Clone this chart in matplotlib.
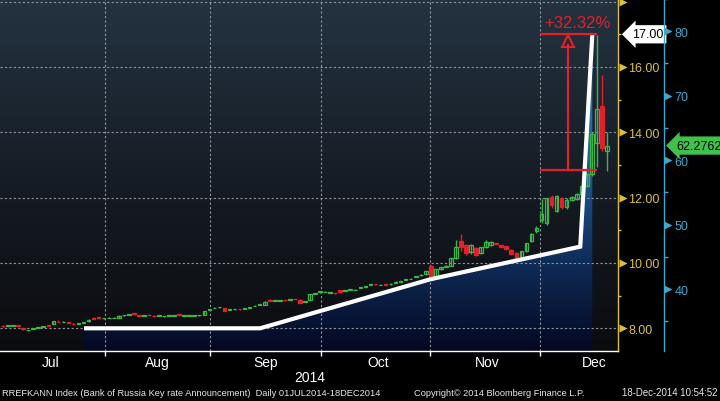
import matplotlib
matplotlib.use("Agg")
import matplotlib.pyplot as plt
import matplotlib.transforms as mtransforms
from matplotlib.colors import LinearSegmentedColormap
from matplotlib.patches import Polygon
import numpy as np

# ---------------- data ----------------
# USD/RUB daily candles (right, blue axis)
OPEN = [34.35, 34.30, 34.33, 34.40, 34.00, 33.60, 33.85, 34.05, 34.17, 34.42,
        34.60, 34.98, 34.88, 34.86, 34.66, 34.64, 34.82, 35.00, 35.50, 35.62,
        35.46, 35.50, 35.52, 35.55, 35.93, 36.03, 36.24, 35.96, 35.87, 36.05,
        35.83, 35.84, 35.78, 35.87, 35.92, 36.15, 35.88, 35.88, 35.89, 35.96,
        35.97, 36.80, 37.08, 37.17, 37.10, 36.83, 36.87, 36.95, 36.97, 37.12,
        37.37, 37.52, 37.62, 38.30, 38.23, 38.23, 38.33, 38.36, 38.53, 38.40,
        38.08, 38.40, 39.26, 39.52, 39.58, 39.46, 39.44, 39.85, 39.76, 39.92,
        39.87, 40.22, 40.35, 40.62, 40.84, 40.68, 40.74, 40.78, 41.02, 41.12,
        41.48, 41.56, 41.92, 42.16, 42.30, 43.60, 41.70, 43.10, 43.50, 43.60,
        44.80, 47.40, 46.80, 45.70, 46.40, 45.60, 46.50, 46.80, 47.15, 46.80,
        46.70, 46.10, 45.60, 44.70, 45.90, 47.40, 49.00, 50.70, 50.20, 54.30,
        52.10, 54.10, 52.70, 53.80, 54.00, 54.70, 56.00, 57.90, 62.70, 68.40,
        61.50]
CLOSE = [34.22, 34.40, 34.42, 34.26, 33.80, 33.68, 33.93, 34.12, 34.24, 34.34,
         35.00, 34.88, 34.95, 34.76, 34.56, 34.72, 34.90, 35.30, 35.42, 35.52,
         35.54, 35.58, 35.58, 35.90, 35.98, 36.10, 36.18, 35.88, 35.93, 35.97,
         35.79, 35.96, 35.84, 35.93, 35.98, 36.05, 35.94, 35.94, 35.93, 36.00,
         36.60, 36.88, 37.12, 37.23, 36.62, 36.87, 36.93, 36.88, 37.03, 37.25,
         37.43, 37.65, 38.08, 38.22, 38.27, 38.27, 38.27, 38.45, 38.47, 37.92,
         38.12, 39.20, 39.34, 39.65, 39.62, 39.54, 39.36, 39.52, 39.84, 39.98,
         39.93, 40.35, 40.48, 40.75, 40.76, 40.72, 40.66, 40.82, 41.15, 41.26,
         41.52, 41.64, 42.05, 42.24, 42.80, 41.40, 43.10, 43.40, 43.62, 44.80,
         46.50, 46.50, 45.60, 46.80, 45.30, 46.50, 47.30, 47.30, 47.00, 46.55,
         46.20, 45.50, 44.70, 45.90, 47.10, 48.50, 49.50, 51.60, 54.10, 53.00,
         54.40, 52.70, 53.80, 54.30, 54.70, 56.00, 57.80, 64.10, 68.00, 61.90,
         62.28]
HIGH = [34.40, 34.50, 34.50, 34.45, 34.05, 33.75, 34.00, 34.20, 34.30, 34.45,
        35.05, 35.20, 35.05, 34.90, 34.70, 34.78, 34.95, 35.35, 35.65, 35.66,
        35.60, 35.62, 35.62, 35.95, 36.05, 36.15, 36.38, 36.00, 35.98, 36.08,
        35.95, 36.00, 35.88, 35.97, 36.02, 36.18, 35.98, 35.98, 35.98, 36.06,
        36.65, 36.95, 37.25, 37.30, 37.15, 36.95, 36.98, 36.99, 37.08, 37.30,
        37.48, 37.70, 38.12, 38.50, 38.35, 38.35, 38.38, 38.50, 38.56, 38.45,
        38.20, 39.25, 39.40, 39.70, 39.70, 39.60, 39.48, 39.90, 39.88, 40.02,
        39.98, 40.40, 40.52, 40.80, 40.88, 40.80, 40.78, 40.90, 41.20, 41.30,
        41.60, 41.70, 42.10, 42.30, 42.85, 43.80, 43.20, 43.50, 43.70, 44.90,
        47.60, 48.50, 47.00, 47.00, 46.50, 46.60, 47.60, 47.40, 47.20, 46.85,
        46.75, 46.20, 45.70, 46.00, 47.20, 48.70, 49.80, 54.00, 54.20, 54.60,
        54.60, 54.30, 54.10, 54.50, 54.90, 56.20, 58.00, 64.40, 79.40, 73.20,
        64.40]
LOW = [34.18, 34.28, 34.30, 34.20, 33.75, 33.55, 33.80, 34.00, 34.12, 34.30,
       34.55, 34.85, 34.85, 34.72, 34.50, 34.60, 34.78, 34.95, 35.38, 35.48,
       35.42, 35.46, 35.48, 35.50, 35.90, 36.00, 36.15, 35.85, 35.83, 35.93,
       35.76, 35.80, 35.75, 35.84, 35.88, 36.02, 35.85, 35.85, 35.86, 35.92,
       35.95, 36.75, 37.02, 37.12, 36.58, 36.78, 36.83, 36.85, 36.93, 37.08,
       37.33, 37.48, 37.58, 38.18, 38.18, 38.18, 38.24, 38.32, 38.44, 37.88,
       38.02, 38.35, 39.22, 39.48, 39.52, 39.42, 39.32, 39.48, 39.72, 39.88,
       39.84, 40.18, 40.30, 40.58, 40.72, 40.62, 40.62, 40.72, 40.98, 41.08,
       41.42, 41.52, 41.88, 42.12, 42.25, 41.20, 41.60, 43.00, 43.45, 43.55,
       44.70, 45.90, 45.30, 45.50, 45.20, 45.50, 46.40, 46.70, 46.95, 46.50,
       46.10, 45.40, 44.60, 44.60, 45.80, 47.30, 48.70, 50.20, 50.00, 52.60,
       51.90, 52.50, 52.50, 53.70, 53.90, 54.50, 55.80, 57.60, 59.00, 61.40,
       58.30]
LAST_PRICE = 62.2762

# Bank of Russia key rate announcements (left, yellow axis), candle-index positions
KEY_POS = [16.1, 51.1, 84.9, 114.7, 117.1]
KEY_RATE = [8.0, 8.0, 9.5, 10.5, 17.0]

# months
MONTHS = ["Jul", "Aug", "Sep", "Oct", "Nov", "Dec"]
MONTH_LABEL_POS = [9.4, 30.7, 52.2, 74.5, 96.2, 117.4]
MONTH_EDGES = [20.3, 41.1, 63.2, 84.8, 106.7]

YELLOW_TICKS = [8, 10, 12, 14, 16, 18]
YELLOW_MINOR = [9, 11, 13, 15, 17]
BLUE_TICKS = [40, 50, 60, 70, 80]
BLUE_MINOR = [35, 45, 55, 65, 75, 85]

# change annotation (yellow-axis units)
ANNOT_FROM = 12.85
ANNOT_TO = 17.0
ANNOT_X = [106.9, 117.8]
ANNOT_XV = 112.3
ANNOT_TEXT = "+32.32%"

# ---------------- style ----------------
YELLOW = "#dcc03c"
BLUE = "#3aa8cf"
GREEN = "#3db54a"
RED = "#e3202a"
plt.rcParams["font.family"] = ["Liberation Sans", "DejaVu Sans"]

fig = plt.figure(figsize=(7.2, 4.02), dpi=100, facecolor="black")
ax = fig.add_axes([0, 1 - 352 / 402, 618 / 720, 352 / 402])
ax2 = ax.twinx()

XLIM = (-0.6, 122.2)
YLIM = (7.305, 18.08)
BLIM = (30.42, 84.79)

# background gradient
bg_cmap = LinearSegmentedColormap.from_list(
    "bg", [(0, "#0b0c0f"), (0.45, "#151b23"), (1, "#243341")])
grad = np.linspace(0, 1, 256).reshape(-1, 1)
ax.imshow(grad, extent=[XLIM[0], XLIM[1], YLIM[0], YLIM[1]], origin="lower",
          aspect="auto", cmap=bg_cmap, zorder=0)

# area under key rate with vertical gradient
fill_cmap = LinearSegmentedColormap.from_list(
    "fill", [(0, "#040822"), (0.25, "#0f2c58"), (0.44, "#1a4c80"),
             (0.62, "#28679d"), (1, "#4a90c8")])
im = ax.imshow(grad, extent=[XLIM[0], XLIM[1], YLIM[0], YLIM[1]], origin="lower",
               aspect="auto", cmap=fill_cmap, zorder=0.5)
verts = list(zip(KEY_POS, KEY_RATE)) + [(KEY_POS[-1], YLIM[0]), (KEY_POS[0], YLIM[0])]
poly = Polygon(verts, closed=True, facecolor="none", edgecolor="none",
               transform=ax.transData)
ax.add_patch(poly)
im.set_clip_path(poly)

ax.set_xlim(*XLIM)
ax.set_ylim(*YLIM)
ax2.set_ylim(*BLIM)

# grid
ax.set_axisbelow(False)
ax.set_xticks(MONTH_EDGES)
ax.set_xticklabels([""] * len(MONTH_EDGES))
ax.set_xticks(MONTH_LABEL_POS, minor=True)
ax.set_xticklabels(MONTHS, minor=True)
ax.set_yticks(YELLOW_TICKS)
ax.set_yticklabels([f"{v:.2f}" for v in YELLOW_TICKS[:-1]] + [""])
ax.set_yticks(YELLOW_MINOR, minor=True)
ax.grid(True, which="major", axis="both", color="#8d949c",
        linestyle=(0, (2, 2)), linewidth=0.8)

ax.tick_params(axis="x", which="major", direction="out", length=3.5, width=1,
               color="white")
ax.tick_params(axis="x", which="minor", length=0, pad=3, labelsize=10,
               labelcolor="white")
ax.yaxis.tick_right()
ax.tick_params(axis="y", which="major", length=0, pad=7.5, labelsize=9,
               labelcolor=YELLOW, left=False, labelleft=False,
               right=True, labelright=True)
ax.tick_params(axis="y", which="minor", direction="out", length=2.5, width=1,
               color=YELLOW, left=False, right=True)

for s in ["top", "left"]:
    ax.spines[s].set_visible(False)
ax.spines["bottom"].set_color("white")
ax.spines["bottom"].set_linewidth(1)
ax.spines["right"].set_color(YELLOW)
ax.spines["right"].set_linewidth(1)

BLUE_X = 663.5 / 618
ax2.spines["right"].set_position(("axes", BLUE_X))
for s in ["top", "left", "bottom"]:
    ax2.spines[s].set_visible(False)
ax2.spines["right"].set_color(BLUE)
ax2.spines["right"].set_linewidth(1)
ax2.set_yticks(BLUE_TICKS)
ax2.set_yticklabels([str(v) for v in BLUE_TICKS])
ax2.set_yticks(BLUE_MINOR, minor=True)
ax2.tick_params(axis="y", which="major", length=0, pad=7.8, labelsize=9,
                labelcolor=BLUE)
ax2.tick_params(axis="y", which="minor", direction="out", length=3, width=1,
                color=BLUE)

# triangle tick markers
off = mtransforms.ScaledTranslation(4.5 / 100, 0, fig.dpi_scale_trans)
ty = mtransforms.blended_transform_factory(ax.transAxes, ax.transData) + off
ax.plot([1.0] * len(YELLOW_TICKS), YELLOW_TICKS, linestyle="none", marker=">",
        ms=5.5, color=YELLOW, mec="none", transform=ty, clip_on=False, zorder=6)
tb = mtransforms.blended_transform_factory(ax2.transAxes, ax2.transData) + off
ax2.plot([BLUE_X] * len(BLUE_TICKS), BLUE_TICKS, linestyle="none", marker=">",
         ms=5.5, color=BLUE, mec="none", transform=tb, clip_on=False, zorder=6)

# candles
idx = np.arange(len(CLOSE))
o = np.array(OPEN)
c = np.array(CLOSE)
up = c >= o
cols = np.where(up, GREEN, RED)
ax2.vlines(idx, LOW, HIGH, colors=cols, lw=1, zorder=3)
ax2.bar(idx, c - o, bottom=o, width=0.72,
        color=[("none" if u else RED) for u in up],
        edgecolor=cols, linewidth=0.9, zorder=4)

# key rate line
ax2.plot(KEY_POS, KEY_RATE, color="white", lw=3, transform=ax.transData,
         solid_joinstyle="miter", solid_capstyle="butt", zorder=5)

# red change annotation
ax2.plot(ANNOT_X, [ANNOT_TO, ANNOT_TO], color=RED, lw=1.6,
         transform=ax.transData, zorder=6)
ax2.plot(ANNOT_X, [ANNOT_FROM, ANNOT_FROM], color=RED, lw=1.6,
         transform=ax.transData, zorder=6)
ax2.plot([ANNOT_XV, ANNOT_XV], [ANNOT_FROM, ANNOT_TO - 0.33], color=RED, lw=1.6,
         transform=ax.transData, zorder=6)
ax2.plot([ANNOT_XV], [ANNOT_TO - 0.2], marker="^", ms=8, mfc="none", mec=RED,
         mew=1.5, linestyle="none", transform=ax.transData, zorder=6)
ax2.text(ANNOT_XV + 1.75, ANNOT_TO + 0.37, ANNOT_TEXT, color=RED, fontsize=12,
         ha="center", va="center", transform=ax.transData, zorder=7)

# last value boxes
ax.annotate(f"{KEY_RATE[-1]:.2f}", xy=(1.0, KEY_RATE[-1]),
            xycoords=mtransforms.blended_transform_factory(ax.transAxes, ax.transData),
            xytext=(10, 0), textcoords="offset points", ha="left", va="center",
            fontsize=9, color="black", annotation_clip=False, zorder=8,
            bbox=dict(boxstyle="larrow,pad=0.25", fc="white", ec="none"))
ax2.annotate(f"{LAST_PRICE:.4f}", xy=(BLUE_X, LAST_PRICE),
             xycoords=mtransforms.blended_transform_factory(ax2.transAxes, ax2.transData),
             xytext=(9, 0), textcoords="offset points", ha="left", va="center",
             fontsize=9, color="black", annotation_clip=False, zorder=8,
             bbox=dict(boxstyle="larrow,pad=0.25", fc="#3ec24a", ec="none"))

# texts
fig.text(310 / 720, 1 - 378 / 402, "2014", ha="center", va="center",
         color="white", fontsize=10)
FOOT = 1 - 393.5 / 402
fig.text(2 / 720, FOOT,
         "RREFKANN Index (Bank of Russia Key rate Announcement)  Daily 01JUL2014-18DEC2014",
         ha="left", va="center", color="#e8e8e8", fontsize=6.7)
fig.text(414 / 720, FOOT, "Copyright\u00a9 2014 Bloomberg Finance L.P.",
         ha="left", va="center", color="#e8e8e8", fontsize=6.7)
fig.text(718 / 720, FOOT, "18-Dec-2014 10:54:52", ha="right", va="center",
         color="#e8e8e8", fontsize=6.9)

fig.savefig("out.png", dpi=100, facecolor="black")
